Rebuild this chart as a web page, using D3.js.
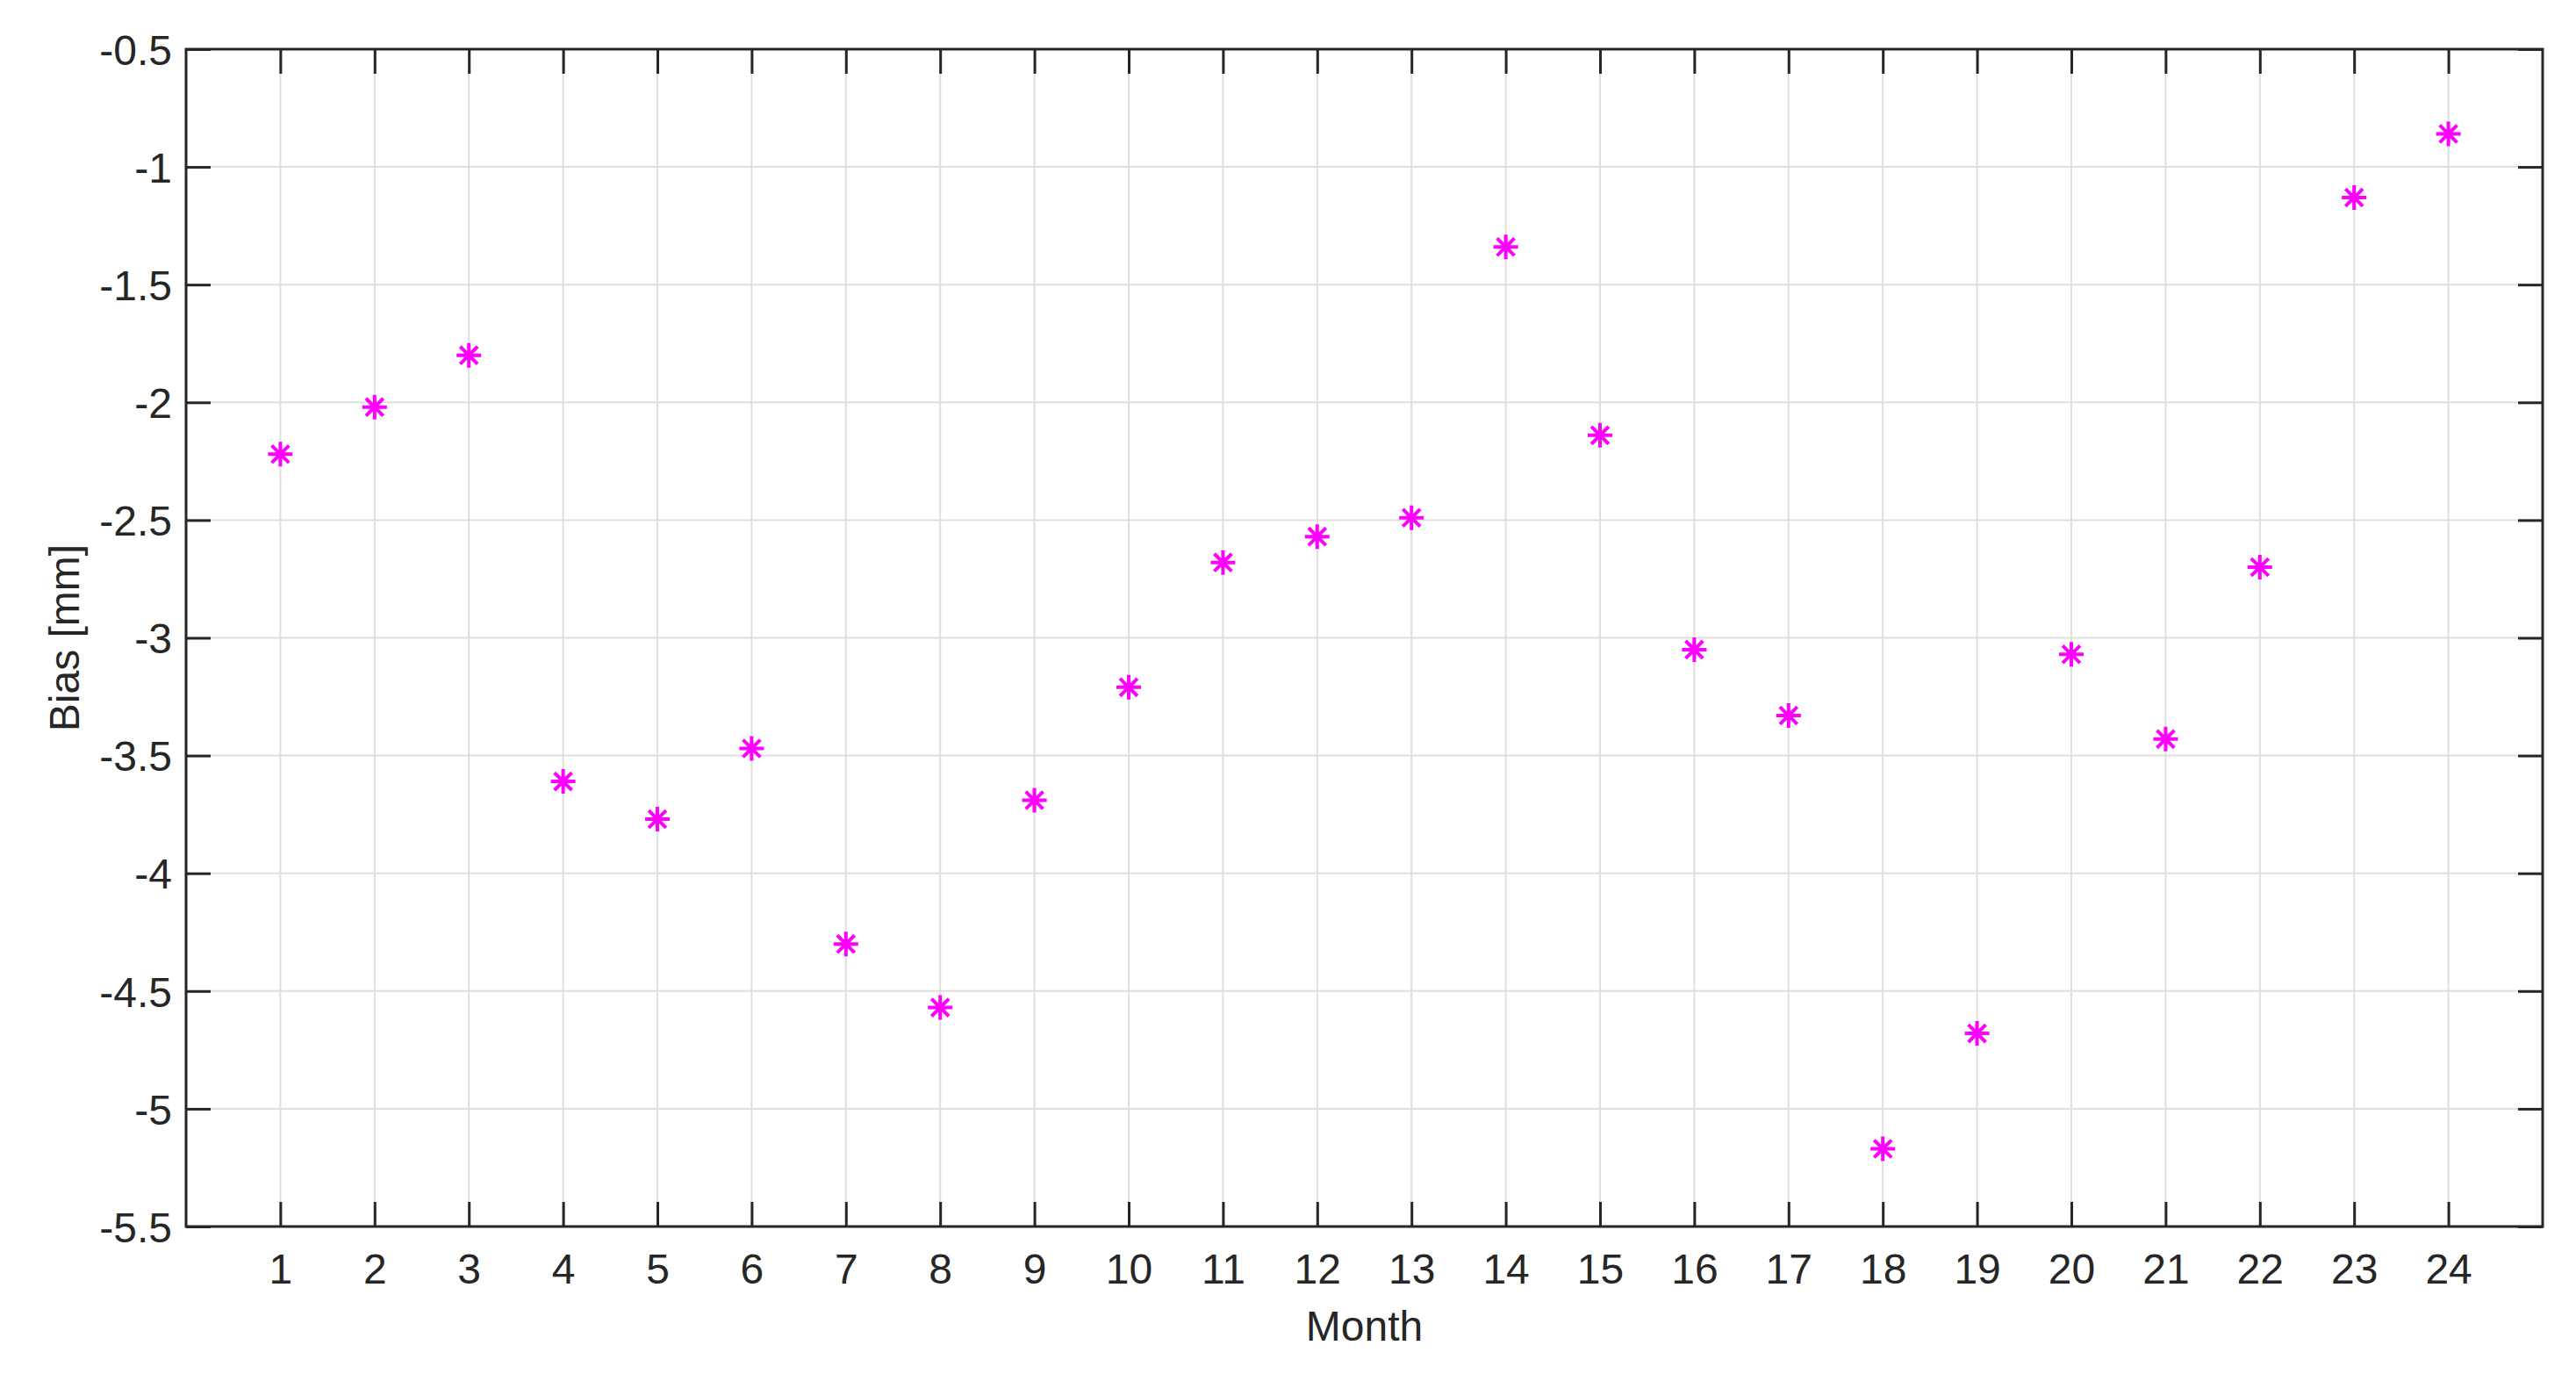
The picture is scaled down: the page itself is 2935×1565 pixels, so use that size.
<!DOCTYPE html>
<html><head><meta charset="utf-8">
<script src="https://cdn.jsdelivr.net/npm/d3@7"></script>
<style>body{margin:0;background:#fff}text{font-family:"Liberation Sans",Arial,sans-serif}</style>
</head><body>
<svg id="c" width="2935" height="1565"></svg>
<script>
const months = d3.range(1,25);
const bias = [-2.22,-2.02,-1.80,-3.61,-3.77,-3.47,-4.30,-4.57,-3.69,-3.21,-2.68,-2.57,-2.49,-1.34,-2.14,-3.05,-3.33,-5.17,-4.68,-3.07,-3.43,-2.70,-1.13,-0.86];
const yTicks = [-5.5,-5,-4.5,-4,-3.5,-3,-2.5,-2,-1.5,-1,-0.5];
const L=212,R=2897,T=56,B=1397;
const svg=d3.select("#c");
const x=d3.scaleLinear().domain([0,25]).range([L,R]);
const y=d3.scaleLinear().domain([-5.5,-0.5]).range([B,T]);
const c="#262626";
svg.append("g").selectAll("line").data(months).join("line")
 .attr("x1",d=>x(d)).attr("x2",d=>x(d)).attr("y1",T).attr("y2",B).attr("stroke","#dfdfdf").attr("stroke-width",2);
svg.append("g").selectAll("line").data(yTicks).join("line")
 .attr("y1",d=>y(d)).attr("y2",d=>y(d)).attr("x1",L).attr("x2",R).attr("stroke","#dfdfdf").attr("stroke-width",2);
const fmt=d=>String(d);
const ax=(g,gen)=>{g.call(gen);g.select(".domain").remove();g.selectAll("line").attr("stroke",c).attr("stroke-width",3);g.selectAll("text").attr("fill",c).style("font-size","48px").style("font-family","'Liberation Sans',Arial,sans-serif");};
svg.append("g").attr("transform",`translate(0,${B})`).call(g=>ax(g,d3.axisTop(x).tickValues(months).tickSize(28).tickFormat(fmt))).selectAll("text").attr("y",48).attr("dy","0.36em");
svg.append("g").attr("transform",`translate(0,${T})`).call(g=>ax(g,d3.axisBottom(x).tickValues(months).tickSize(28).tickFormat("")));
svg.append("g").attr("transform",`translate(${L},0)`).call(g=>ax(g,d3.axisRight(y).tickValues(yTicks).tickSize(28).tickFormat(fmt))).selectAll("text").attr("x",-16).attr("text-anchor","end").attr("dy","0.36em");
svg.append("g").attr("transform",`translate(${R},0)`).call(g=>ax(g,d3.axisLeft(y).tickValues(yTicks).tickSize(28).tickFormat("")));
svg.append("rect").attr("x",L).attr("y",T).attr("width",R-L).attr("height",B-T).attr("fill","none").attr("stroke",c).attr("stroke-width",3);
svg.append("text").attr("x",(L+R)/2).attr("y",1527).attr("text-anchor","middle").attr("fill",c).style("font-size","48px").text("Month");
svg.append("text").attr("transform",`translate(90,${(T+B)/2}) rotate(-90)`).attr("text-anchor","middle").attr("fill",c).style("font-size","48px").text("Bias [mm]");
const s=14,d2=s*0.707;
svg.append("g").selectAll("path").data(months).join("path")
 .attr("d",(m,i)=>{const px=x(m),py=y(bias[i]);return `M${px-s},${py}H${px+s}M${px},${py-s}V${py+s}M${px-d2},${py-d2}L${px+d2},${py+d2}M${px-d2},${py+d2}L${px+d2},${py-d2}`;})
 .attr("stroke","#ff00ff").attr("stroke-width",4).attr("fill","none");
</script></body></html>
